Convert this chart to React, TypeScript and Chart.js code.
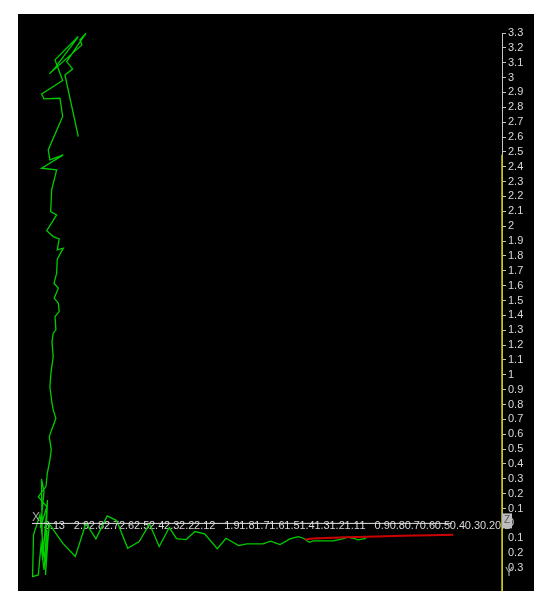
import React, { useEffect, useRef } from "react";
import { Chart, registerables } from "chart.js";

Chart.register(...registerables);

// Axis ranges (value units)
const X_MIN = 0.053;
const X_MAX = 3.271;
const Y_MIN = -0.455;
const Y_MAX = 3.3;
const TICK_STEP = 0.1;

// Green trace: upper (near-vertical) part, values [x, y]
const greenUpper: number[][] = [
  [2.870, 2.603], [2.959, 3.018], [2.908, 3.057], [2.947, 3.108], [2.819, 3.299],
  [2.859, 3.254], [2.846, 3.220], [3.063, 3.025], [3.025, 3.065], [2.870, 3.276],
  [3.025, 3.119], [2.974, 2.980], [3.114, 2.890], [3.098, 2.857], [2.992, 2.861],
  [2.974, 2.738], [3.070, 2.513], [3.059, 2.446], [2.970, 2.480], [3.114, 2.390],
  [3.014, 2.379], [3.047, 2.244], [3.054, 2.098], [3.014, 2.076], [3.080, 1.970],
  [3.037, 1.930], [2.997, 1.915], [3.010, 1.841], [2.970, 1.852], [3.010, 1.778],
  [3.014, 1.684], [3.032, 1.616], [3.003, 1.583], [3.030, 1.515], [3.003, 1.482],
  [2.997, 1.425], [3.025, 1.392], [3.019, 1.302], [3.037, 1.280], [3.045, 1.223],
  [3.037, 1.122], [3.052, 1.011], [3.059, 0.921], [3.045, 0.809], [3.037, 0.764],
  [3.019, 0.708], [3.063, 0.584], [3.050, 0.495], [3.059, 0.427], [3.076, 0.338],
  [3.085, 0.248], [3.136, 0.180], [3.080, 0.113],
];

// Green trace: scribble near the origin of the X axis
const greenCluster: number[][] = [
  [3.122, -0.030], [3.098, 0.212], [3.115, 0.299], [3.108, -0.246], [3.085, 0.024],
  [3.103, -0.199], [3.075, 0.158], [3.092, -0.266], [3.125, 0.057], [3.168, -0.077],
  [3.174, -0.358], [3.136, -0.347], [3.118, -0.145], [3.098, -0.313], [3.078, -0.044],
  [3.088, -0.347], [3.072, -0.111], [3.063, -0.003],
];

// Green trace: lower (near-horizontal) part
const greenLower: number[][] = [
  [2.974, -0.133], [2.890, -0.223], [2.819, 0.001], [2.753, -0.104], [2.678, 0.050],
  [2.615, 0.019], [2.542, -0.167], [2.465, -0.122], [2.397, -0.003], [2.332, -0.156],
  [2.265, -0.028], [2.217, -0.102], [2.154, -0.109], [2.094, -0.055], [2.030, -0.071],
  [1.946, -0.170], [1.888, -0.100], [1.804, -0.150], [1.751, -0.138], [1.642, -0.138],
  [1.591, -0.120], [1.529, -0.143], [1.463, -0.104], [1.408, -0.089], [1.374, -0.100],
  [1.334, -0.127], [1.308, -0.118], [1.175, -0.118], [1.119, -0.106], [1.075, -0.093],
  [1.042, -0.100], [1.009, -0.111], [0.975, -0.104], [0.957, -0.100],
];

// Red trace
const redTrace: number[][] = [
  [1.363, -0.108], [1.310, -0.101], [1.086, -0.094], [0.886, -0.089],
  [0.709, -0.084], [0.532, -0.079], [0.377, -0.077],
];

// Axis decorations (value units)
const xAxisLine: number[][] = [[3.178, 0], [0.386, 0]];
const yAxisYellow: number[][] = [[X_MIN, 2.48], [X_MIN, Y_MIN]];

const FONT = "'Liberation Sans', Arial, sans-serif";
const LABEL_COLOR = "#d8d8d8";
const AXIS_GREY = "#c4c4c4";

const fmt = (v: number) => String(Math.round(Math.abs(v) * 10) / 10);
const toPts = (a: number[][]) => a.map(([x, y]) => ({ x, y }));

const axisNames = {
  id: "axisNames",
  afterDraw(chart: any) {
    const { ctx, scales, chartArea } = chart;
    const xs = scales.x;
    const ys = scales.y;
    const y0 = ys.getPixelForValue(0);
    ctx.save();
    ctx.font = `12px ${FONT}`;
    ctx.textBaseline = "middle";
    ctx.textAlign = "left";
    ctx.fillStyle = "#a8a8a8";
    ctx.fillText("X", xs.getPixelForValue(xAxisLine[0][0]), y0 - 6);
    ctx.fillText("Y", chartArea.right + 3, ys.getPixelForValue(-0.33));
    // origin marker box
    ctx.fillStyle = "#bdbdbd";
    ctx.fillRect(chartArea.right, y0 - 10, 10, 15);
    ctx.fillStyle = "#5a5a5a";
    ctx.font = `10px ${FONT}`;
    ctx.fillText("Z", chartArea.right + 2, y0 - 3);
    ctx.restore();
  },
};

export default function App() {
  const ref = useRef<HTMLCanvasElement>(null);

  useEffect(() => {
    if (!ref.current) return;
    const chart = new Chart(ref.current, {
      type: "scatter",
      data: {
        datasets: [
          {
            data: toPts(xAxisLine),
            borderColor: "#e6e6e6",
            borderWidth: 1,
            showLine: true,
            pointRadius: 0,
            clip: false,
          },
          {
            data: toPts(yAxisYellow),
            borderColor: "#c8c800",
            borderWidth: 1.5,
            showLine: true,
            pointRadius: 0,
            clip: false,
          },
          {
            data: toPts(redTrace),
            borderColor: "#cc0000",
            borderWidth: 2,
            showLine: true,
            pointRadius: 0,
            clip: false,
          },
          {
            data: toPts([...greenUpper, ...greenCluster, ...greenLower]),
            borderColor: "#00cc00",
            borderWidth: 1.3,
            showLine: true,
            pointRadius: 0,
            clip: false,
          },
        ] as any,
      },
      options: {
        responsive: false,
        animation: false,
        layout: { padding: { top: 19, left: 0, right: 0, bottom: 0 } },
        plugins: {
          legend: { display: false },
          tooltip: { enabled: false },
        },
        elements: { point: { radius: 0 }, line: { tension: 0 } },
        scales: {
          x: {
            type: "linear",
            reverse: true,
            min: X_MIN,
            max: X_MAX,
            position: { y: 0 } as any,
            z: 1,
            grid: { display: false },
            border: { display: false },
            afterFit: (s: any) => {
              s.height = 0;
              s.paddingLeft = 0;
              s.paddingRight = 0;
            },
            ticks: {
              stepSize: TICK_STEP,
              includeBounds: false,
              autoSkip: false,
              maxRotation: 0,
              minRotation: 0,
              maxTicksLimit: 1000,
              padding: -12,
              align: "start",
              color: LABEL_COLOR,
              font: { family: FONT, size: 11 },
              callback: (v: any) => (Number(v) > 3.15 ? "" : fmt(Number(v))),
            },
          } as any,
          y: {
            type: "linear",
            position: "right",
            min: Y_MIN,
            max: Y_MAX,
            grid: {
              drawOnChartArea: false,
              drawTicks: true,
              tickLength: 4,
              color: AXIS_GREY,
              tickColor: (c: any) =>
                c.tick && c.tick.value < -0.05 ? "rgba(0,0,0,0)" : AXIS_GREY,
            },
            border: { color: AXIS_GREY, width: 1 },
            afterFit: (s: any) => {
              s.width = 32;
              s.paddingTop = 0;
              s.paddingBottom = 0;
            },
            ticks: {
              stepSize: TICK_STEP,
              includeBounds: false,
              autoSkip: false,
              maxTicksLimit: 1000,
              padding: 2,
              color: LABEL_COLOR,
              font: { family: FONT, size: 11 },
              callback: (v: any) => (Number(v) < -0.35 ? "" : fmt(Number(v))),
            },
          } as any,
        },
      },
      plugins: [axisNames],
    });
    return () => chart.destroy();
  }, []);

  return (
    <canvas
      ref={ref}
      width={516}
      height={577}
      style={{
        position: "absolute",
        left: 18,
        top: 14,
        width: 516,
        height: 577,
        background: "#000",
      }}
    />
  );
}
